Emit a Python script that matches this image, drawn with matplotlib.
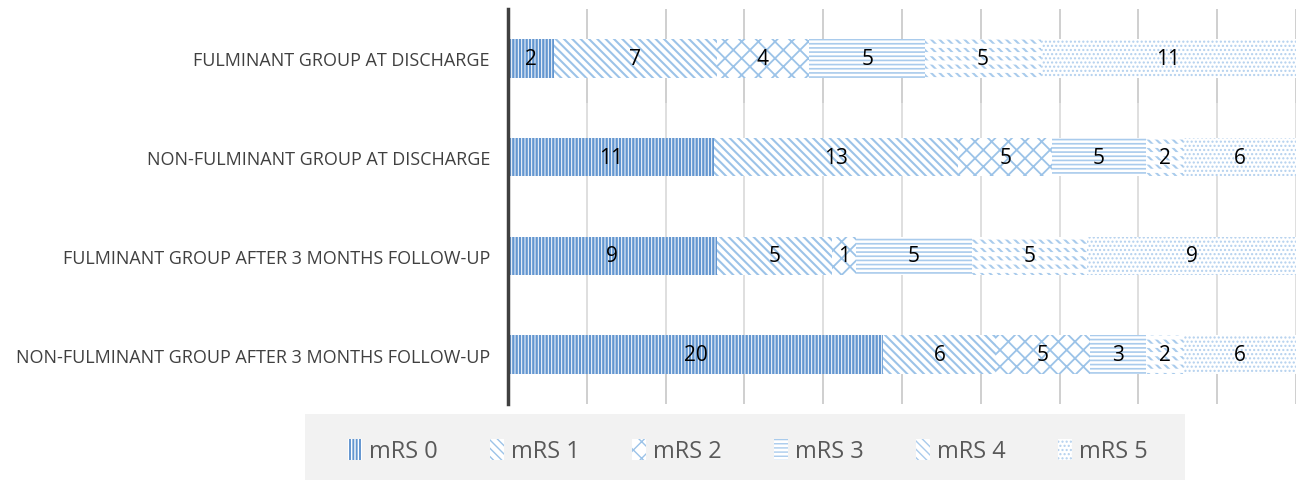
import matplotlib
matplotlib.use('Agg')
import matplotlib.pyplot as plt
import numpy as np
from matplotlib.patches import Patch, Rectangle

plt.rcParams['font.family'] = ['Open Sans', 'DejaVu Sans']

groups = ['FULMINANT GROUP AT DISCHARGE',
          'NON-FULMINANT GROUP AT DISCHARGE',
          'FULMINANT GROUP AFTER 3 MONTHS FOLLOW-UP',
          'NON-FULMINANT GROUP AFTER 3 MONTHS FOLLOW-UP']
mrs_labels = ['mRS 0', 'mRS 1', 'mRS 2', 'mRS 3', 'mRS 4', 'mRS 5']
mrs0 = [2, 11, 9, 20]
mrs1 = [7, 13, 5, 6]
mrs2 = [4, 5, 1, 5]
mrs3 = [5, 5, 5, 3]
mrs4 = [5, 2, 5, 2]
mrs5 = [11, 6, 9, 6]

counts = np.array([mrs0, mrs1, mrs2, mrs3, mrs4, mrs5], dtype=float)
totals = counts.sum(axis=0)
shares = counts / totals

# (facecolor, hatch colour, hatch, hatch linewidth)
styles = [('#6396d0', 'white', '|||||', 0.7),
          ('white', '#9cc3e8', '\\\\\\\\', 1.5),
          ('white', '#9cc3e8', 'xx', 1.3),
          ('white', '#a9cbec', '----', 1.2),
          ('white', '#a9cbec', '\\\\\\\\', 1.5),
          ('white', '#b3d0ee', '....', 1.0)]

fig = plt.figure(figsize=(12.96, 4.81), dpi=100)
ax = fig.add_axes([508 / 1296, 76 / 481, 788 / 1296, 395 / 481])

y = np.arange(len(groups))
bh = 0.39
left = np.zeros(len(groups))
for k in range(len(mrs_labels)):
    fc, hc, hatch, hlw = styles[k]
    with plt.rc_context({'hatch.linewidth': hlw}):
        ax.barh(y, shares[k], left=left, height=bh, color=fc, edgecolor=hc,
                hatch=hatch, linewidth=0, zorder=2)
    if k == 4:
        # white bands that break mRS 4 stripes into dashed rows
        with plt.rc_context({'hatch.linewidth': 3.0}):
            ax.barh(y, shares[k], left=left, height=bh, facecolor='none',
                    edgecolor='white', hatch='--', linewidth=0, zorder=2.5)
    for i in range(len(groups)):
        ax.text(left[i] + shares[k][i] / 2, y[i], f'{int(counts[k][i])}',
                ha='center', va='center', fontsize=15, color='black', zorder=3)
    left += shares[k]

ax.set_xlim(0, 1)
ax.set_ylim(len(groups) - 0.5, -0.5)
ax.set_yticks(y)
ax.set_yticklabels(groups, fontsize=13, color='#404040')
ax.tick_params(axis='y', length=0, pad=13)
grid_x = np.linspace(0, 1, 11)[1:]
ax.set_xticks(grid_x)
ax.tick_params(axis='x', length=0, labelbottom=False)
ax.grid(axis='x', color='#d9d9d9', linewidth=1.2, zorder=0)
for y0, y1 in [(-0.5, -bh / 2), (bh / 2, 0.45), (3 + bh / 2, 3.5)]:
    ax.vlines(grid_x, y0, y1, color='#a0a0a0', linewidth=1.3, zorder=1)
for s in ['top', 'right', 'bottom']:
    ax.spines[s].set_visible(False)
ax.spines['left'].set_color('#404040')
ax.spines['left'].set_linewidth(2.5)
ax.spines['left'].set_zorder(4)

fig.patches.append(Rectangle((305 / 1296, 0), 880 / 1296, 66 / 481,
                             transform=fig.transFigure, facecolor='#f2f2f2',
                             edgecolor='none', zorder=0))

handles = []
for k in range(len(mrs_labels)):
    fc, hc, hatch, hlw = styles[k]
    with plt.rc_context({'hatch.linewidth': hlw}):
        handles.append(Patch(facecolor=fc, edgecolor=hc, hatch=hatch,
                             linewidth=0, label=mrs_labels[k]))
leg = fig.legend(handles=handles, loc='center', bbox_to_anchor=(748 / 1296, 1 - 452 / 481),
                 ncol=6, frameon=False, fontsize=17, handlelength=0.6, handleheight=1.0,
                 handletextpad=0.3, columnspacing=2.2)
for t in leg.get_texts():
    t.set_color('#595959')

fig.savefig('out.png', dpi=100)
